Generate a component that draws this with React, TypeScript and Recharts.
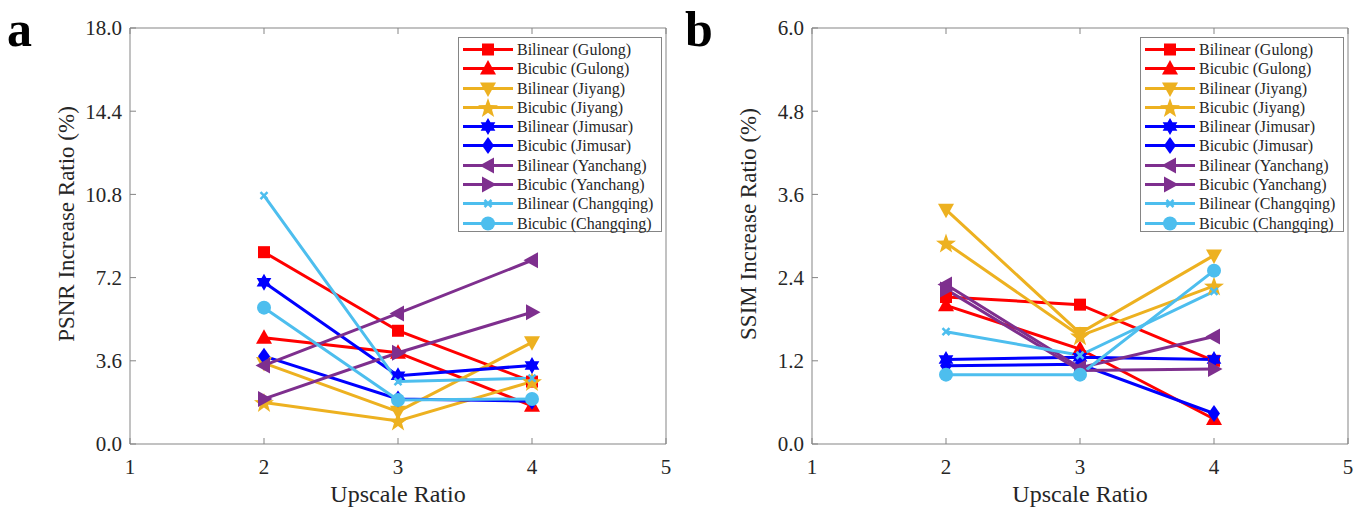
import { LineChart, Line, XAxis, YAxis, Legend } from 'recharts'

const upscaleRatios = [2, 3, 4]
const xTicks = [1, 2, 3, 4, 5]
const psnrTicks = [0, 3.6, 7.2, 10.8, 14.4, 18]
const ssimTicks = [0, 1.2, 2.4, 3.6, 4.8, 6]

const seriesNames = [
  'Bilinear (Gulong)',
  'Bicubic (Gulong)',
  'Bilinear (Jiyang)',
  'Bicubic (Jiyang)',
  'Bilinear (Jimusar)',
  'Bicubic (Jimusar)',
  'Bilinear (Yanchang)',
  'Bicubic (Yanchang)',
  'Bilinear (Changqing)',
  'Bicubic (Changqing)',
]

// PSNR increase ratio (%) at upscale 2, 3, 4
const psnrGulongBilinear = [8.3, 4.9, 2.7]
const psnrGulongBicubic = [4.6, 3.95, 1.65]
const psnrJiyangBilinear = [3.5, 1.4, 4.4]
const psnrJiyangBicubic = [1.8, 1.0, 2.7]
const psnrJimusarBilinear = [7.0, 2.95, 3.4]
const psnrJimusarBicubic = [3.8, 1.95, 1.85]
const psnrYanchangBilinear = [3.4, 5.65, 7.95]
const psnrYanchangBicubic = [1.95, 3.95, 5.7]
const psnrChangqingBilinear = [10.75, 2.7, 2.85]
const psnrChangqingBicubic = [5.9, 1.9, 1.95]

// SSIM increase ratio (%) at upscale 2, 3, 4
const ssimGulongBilinear = [2.12, 2.01, 1.2]
const ssimGulongBicubic = [2.0, 1.37, 0.36]
const ssimJiyangBilinear = [3.38, 1.6, 2.72]
const ssimJiyangBicubic = [2.9, 1.56, 2.28]
const ssimJimusarBilinear = [1.22, 1.25, 1.22]
const ssimJimusarBicubic = [1.13, 1.15, 0.44]
const ssimYanchangBilinear = [2.3, 1.1, 1.55]
const ssimYanchangBicubic = [2.23, 1.06, 1.08]
const ssimChangqingBilinear = [1.62, 1.28, 2.2]
const ssimChangqingBicubic = [1.0, 1.0, 2.5]

const psnrSeries = [
  psnrGulongBilinear, psnrGulongBicubic, psnrJiyangBilinear, psnrJiyangBicubic,
  psnrJimusarBilinear, psnrJimusarBicubic, psnrYanchangBilinear, psnrYanchangBicubic,
  psnrChangqingBilinear, psnrChangqingBicubic,
]
const ssimSeries = [
  ssimGulongBilinear, ssimGulongBicubic, ssimJiyangBilinear, ssimJiyangBicubic,
  ssimJimusarBilinear, ssimJimusarBicubic, ssimYanchangBilinear, ssimYanchangBicubic,
  ssimChangqingBilinear, ssimChangqingBicubic,
]

const RED = '#FF0000'
const YELLOW = '#EDB120'
const BLUE = '#0000FF'
const PURPLE = '#7E2F8E'
const CYAN = '#4DBEEE'
const styles = [
  { color: RED, marker: 'square' },
  { color: RED, marker: 'up' },
  { color: YELLOW, marker: 'down' },
  { color: YELLOW, marker: 'pentagram' },
  { color: BLUE, marker: 'hexagram' },
  { color: BLUE, marker: 'diamond' },
  { color: PURPLE, marker: 'left' },
  { color: PURPLE, marker: 'right' },
  { color: CYAN, marker: 'x' },
  { color: CYAN, marker: 'circle' },
]

const FONT = '"Liberation Serif", "Times New Roman", serif'
const AXIS = '#858585'
const TEXT = '#262626'

function starPoints(cx: number, cy: number, n: number, R: number, r: number) {
  const pts: string[] = []
  for (let i = 0; i < n * 2; i++) {
    const rad = i % 2 === 0 ? R : r
    const a = -Math.PI / 2 + (i * Math.PI) / n
    pts.push(`${cx + rad * Math.cos(a)},${cy + rad * Math.sin(a)}`)
  }
  return pts.join(' ')
}

function Marker({ cx, cy, type, color }: any) {
  if (cx == null || cy == null) return null
  switch (type) {
    case 'square':
      return <rect x={cx - 6} y={cy - 6} width={12} height={12} fill={color} />
    case 'up':
      return <polygon points={`${cx},${cy - 8.5} ${cx - 8},${cy + 6} ${cx + 8},${cy + 6}`} fill={color} />
    case 'down':
      return <polygon points={`${cx},${cy + 8.5} ${cx - 8},${cy - 6} ${cx + 8},${cy - 6}`} fill={color} />
    case 'left':
      return <polygon points={`${cx - 8.5},${cy} ${cx + 6},${cy - 8} ${cx + 6},${cy + 8}`} fill={color} />
    case 'right':
      return <polygon points={`${cx + 8.5},${cy} ${cx - 6},${cy - 8} ${cx - 6},${cy + 8}`} fill={color} />
    case 'pentagram':
      return <polygon points={starPoints(cx, cy + 1, 5, 10.5, 4.2)} fill={color} />
    case 'hexagram':
      return <polygon points={starPoints(cx, cy, 6, 8.5, 4.9)} fill={color} />
    case 'diamond':
      return <polygon points={`${cx},${cy - 8.5} ${cx + 6},${cy} ${cx},${cy + 8.5} ${cx - 6},${cy}`} fill={color} />
    case 'x':
      return (
        <g stroke={color} strokeWidth={2.5}>
          <line x1={cx - 3.5} y1={cy - 3.5} x2={cx + 3.5} y2={cy + 3.5} />
          <line x1={cx - 3.5} y1={cy + 3.5} x2={cx + 3.5} y2={cy - 3.5} />
        </g>
      )
    default:
      return <circle cx={cx} cy={cy} r={7} fill={color} />
  }
}

const buildRows = (series: number[][]) =>
  upscaleRatios.map((x, i) => {
    const row: any = { x }
    series.forEach((vals, k) => {
      row['s' + k] = vals[i]
    })
    return row
  })

function YTitle({ viewBox, text }: any) {
  const x = viewBox.x + 4
  const y = viewBox.y + viewBox.height / 2 - 12
  return (
    <text x={x} y={y} transform={`rotate(-90 ${x} ${y})`} textAnchor="middle" fontSize={23} fontFamily={FONT} fill={TEXT}>
      {text}
    </text>
  )
}

function XTitle({ viewBox, text }: any) {
  return (
    <text x={viewBox.x + viewBox.width / 2} y={viewBox.y + 58} textAnchor="middle" fontSize={24} fontFamily={FONT} fill={TEXT}>
      {text}
    </text>
  )
}

function LegendBox({ payload }: any) {
  const items = [...(payload || [])].sort(
    (a: any, b: any) => Number(String(a.dataKey).slice(1)) - Number(String(b.dataKey).slice(1))
  )
  return (
    <div style={{ width: 204, height: 195, boxSizing: 'border-box', border: `1px solid ${AXIS}`, background: '#fff', paddingTop: 2 }}>
      {items.map((e: any) => {
        const k = Number(String(e.dataKey).slice(1))
        return (
          <div key={e.dataKey} style={{ height: 19.27, display: 'flex', alignItems: 'center' }}>
            <svg width={58} height={19} style={{ flex: 'none' }}>
              <line x1={4} x2={54} y1={9.5} y2={9.5} stroke={styles[k].color} strokeWidth={3} />
              <Marker cx={29} cy={9.5} type={styles[k].marker} color={styles[k].color} />
            </svg>
            <span style={{ fontFamily: FONT, fontSize: 16, color: TEXT, whiteSpace: 'nowrap', lineHeight: '19px' }}>{e.value}</span>
          </div>
        )
      })}
    </div>
  )
}

function Panel({ left, letter, series, ticks, yTitle }: any) {
  const data = buildRows(series)
  const yMax = ticks[ticks.length - 1]
  return (
    <div style={{ position: 'absolute', left, top: 0, width: 682, height: 510 }}>
      <LineChart width={682} height={510} data={data} margin={{ top: 27, right: 15, bottom: 26, left: 70 }}>
        <XAxis
          xAxisId="b"
          dataKey="x"
          type="number"
          domain={[1, 5]}
          ticks={xTicks}
          interval={0}
          height={40}
          tickSize={-6}
          tickMargin={21}
          stroke={AXIS}
          tick={{ fill: TEXT, fontSize: 21, fontFamily: FONT }}
          label={<XTitle text="Upscale Ratio" />}
        />
        <XAxis xAxisId="t" orientation="top" dataKey="x" type="number" domain={[1, 5]} ticks={xTicks} interval={0} height={1} tickSize={-6} stroke={AXIS} tickFormatter={() => ''} />
        <YAxis
          yAxisId="l"
          type="number"
          domain={[0, yMax]}
          ticks={ticks}
          interval={0}
          width={60}
          tickSize={-6}
          tickMargin={14}
          stroke={AXIS}
          tickFormatter={(v: number) => v.toFixed(1)}
          tick={{ fill: TEXT, fontSize: 21, fontFamily: FONT }}
          label={<YTitle text={yTitle} />}
        />
        <YAxis yAxisId="r" orientation="right" type="number" domain={[0, yMax]} ticks={ticks} interval={0} width={1} tickSize={-6} stroke={AXIS} tickFormatter={() => ''} />
        {seriesNames.map((name, k) => (
          <Line
            key={name}
            xAxisId="b"
            yAxisId="l"
            dataKey={'s' + k}
            name={name}
            stroke={styles[k].color}
            strokeWidth={3}
            isAnimationActive={false}
            dot={(p: any) => <Marker key={`${k}-${p.index}`} cx={p.cx} cy={p.cy} type={styles[k].marker} color={styles[k].color} />}
            activeDot={false}
          />
        ))}
        <Legend
          layout="vertical"
          align="center"
          verticalAlign="middle"
          wrapperStyle={{ left: 458, top: 37, width: 204, height: 195 }}
          content={(p: any) => <LegendBox payload={p.payload} />}
        />
      </LineChart>
      <div style={{ position: 'absolute', left: letter === 'a' ? 7 : 3, top: 4, fontFamily: FONT, fontWeight: 'bold', fontSize: 50, lineHeight: '50px', color: '#000' }}>
        {letter}
      </div>
    </div>
  )
}

export default function App() {
  return (
    <div style={{ position: 'absolute', left: 0, top: 0, width: 1364, height: 510, background: '#fff', overflow: 'hidden' }}>
      <Panel left={0} letter="a" series={psnrSeries} ticks={psnrTicks} yTitle="PSNR Increase Ratio (%)" />
      <Panel left={682} letter="b" series={ssimSeries} ticks={ssimTicks} yTitle="SSIM Increase Ratio (%)" />
    </div>
  )
}
